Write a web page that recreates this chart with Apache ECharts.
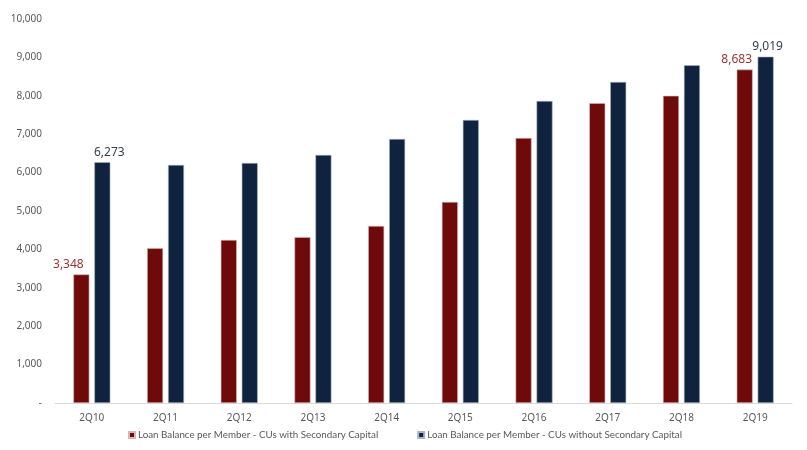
<!DOCTYPE html>
<html>
<head>
<meta charset="utf-8">
<script src="https://cdn.jsdelivr.net/npm/echarts@6/dist/echarts.min.js"></script>
<style>html,body{margin:0;padding:0;background:#fff}#c{width:807px;height:450px}</style>
</head>
<body>
<div id="c"></div>
<script>
var categories = ['2Q10','2Q11','2Q12','2Q13','2Q14','2Q15','2Q16','2Q17','2Q18','2Q19'];
var withSecondary = [3348, 4030, 4245, 4320, 4610, 5235, 6900, 7810, 8000, 8683];
var withoutSecondary = [6273, 6200, 6250, 6460, 6875, 7370, 7865, 8360, 8795, 9019];
var seriesNames = ['Loan Balance per Member - CUs with Secondary Capital', 'Loan Balance per Member - CUs without Secondary Capital'];
var labelIdx = [0, 9];

var font = 'Noto Sans';
function mk(arr, color, offset) {
  return arr.map(function (v, i) {
    var o = { value: v };
    if (labelIdx.indexOf(i) >= 0) {
      o.label = { show: true, position: 'top', distance: 4, color: color, fontSize: 12, fontFamily: font,
        offset: offset[i === 0 ? 0 : 1],
        formatter: function (p) { return p.value.toLocaleString('en-US'); } };
    }
    return o;
  });
}

var chart = echarts.init(document.getElementById('c'));
chart.setOption({
  animation: false,
  grid: { left: 55, right: 15, top: 19, bottom: 47 },
  legend: {
    left: 128, top: 430, padding: 0, itemWidth: 6, itemHeight: 6, itemGap: 39,
    textStyle: { color: '#595959', fontSize: 9.8, fontFamily: 'Lato', padding: [0, 0, 0, -2] },
    data: [{ name: seriesNames[0], icon: 'rect' }, { name: seriesNames[1], icon: 'rect' }]
  },
  xAxis: {
    type: 'category', data: categories,
    axisLine: { lineStyle: { color: '#d9d9d9', width: 1 } },
    axisTick: { show: false },
    axisLabel: { color: '#595959', fontSize: 10, fontFamily: font, margin: 10 }
  },
  yAxis: {
    type: 'value', min: 0, max: 10000, interval: 1000,
    axisLine: { show: false }, axisTick: { show: false }, splitLine: { show: false },
    axisLabel: { color: '#595959', fontSize: 10, fontFamily: font, margin: 13,
      formatter: function (v) { return v === 0 ? '-' : v.toLocaleString('en-US'); } }
  },
  series: [
    { name: seriesNames[0], type: 'bar', barWidth: 16, barGap: '31%',
      itemStyle: { color: '#6E0A0A', borderColor: '#d9b5b5', borderWidth: 0.6 },
      data: mk(withSecondary, '#9B3333', [[-13, 0], [-8, 0]]) },
    { name: seriesNames[1], type: 'bar', barWidth: 16,
      itemStyle: { color: '#0F233F', borderColor: '#a9b3c4', borderWidth: 0.6 },
      data: mk(withoutSecondary, '#333F50', [[7, 0], [2, 0]]) }
  ]
});
</script>
</body>
</html>
